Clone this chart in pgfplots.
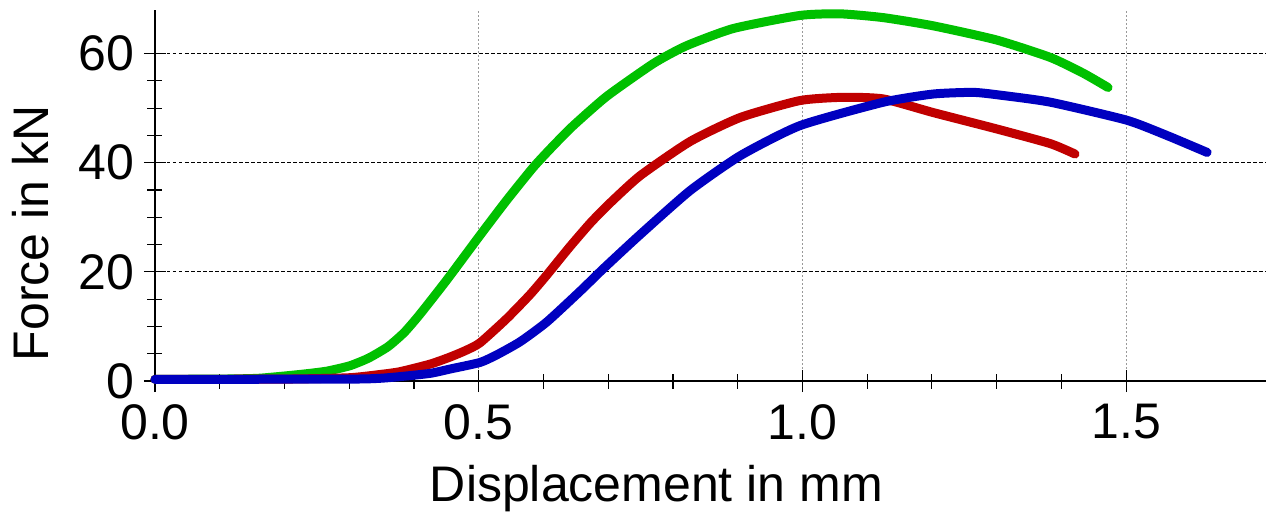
\documentclass[border=0pt]{standalone}
\usepackage{fontspec}
\setmainfont{Liberation Sans}
\usepackage{pgfplots}
\pgfplotsset{compat=1.18}
\definecolor{cgreen}{RGB}{0,192,0}
\definecolor{cred}{RGB}{192,0,0}
\definecolor{cblue}{RGB}{0,0,192}
\begin{document}
\begin{tikzpicture}
\begin{axis}[
  scale only axis,
  width=1111pt, height=371pt,
  xmin=0, xmax=1.716, ymin=0, ymax=68,
  axis x line=bottom, axis y line=left,
  axis line style={-, line width=1.3pt},
  xtick={0,0.5,1.0,1.5}, ytick={0,20,40,60},
  minor x tick num=4, minor y tick num=3,
  tick align=center,
  major tick length=22pt, minor tick length=15pt,
  every tick/.style={black, line width=1.1pt},
  xticklabel style={yshift=-9pt, /pgf/number format/.cd, fixed, fixed zerofill, precision=1},
  yticklabel style={xshift=-6pt},
  /pgf/number format/assume math mode=true,
  font=\fontsize{50}{58}\selectfont,
  ticklabel style={font=\fontsize{50}{58}\selectfont},
  grid=major,
  major x grid style={gray!80, dash pattern=on 2pt off 2pt, line width=1pt},
  major y grid style={black, dash pattern=on 3.5pt off 2.5pt, line width=0.9pt},
  xlabel={Displacement in mm},
  ylabel={Force in kN},
  xlabel style={at={(axis description cs:0.4513,-0.326)}, anchor=base},
  ylabel style={at={(axis description cs:-0.096,0.398)}, anchor=base},
  clip=false,
]
\addplot[cgreen, line width=9pt, line cap=round, line join=round, smooth, tension=0.35] coordinates {
(0,0.3) (0.1,0.35) (0.16,0.5) (0.224,1.2) (0.265,1.8) (0.301,2.8) (0.33,4.2) (0.36,6.3)
(0.385,8.9) (0.409,12.2) (0.4506,18.5) (0.502,26.7) (0.543,33.1) (0.5845,39.2) (0.615,43.1)
(0.646,46.8) (0.698,52.2) (0.77,58.2) (0.82,61.4) (0.893,64.6) (0.996,67.0) (1.058,67.3)
(1.125,66.6) (1.202,65.1) (1.300,62.5) (1.383,59.3) (1.434,56.4) (1.472,53.8)
};
\addplot[cred, line width=9pt, line cap=round, line join=round, smooth, tension=0.35] coordinates {
(0,0.3) (0.2,0.35) (0.3,0.6) (0.348,1.2) (0.378,1.7) (0.425,3.1) (0.456,4.4) (0.48,5.6)
(0.502,7.0) (0.543,11.4) (0.579,15.8) (0.605,19.4) (0.64,24.5) (0.672,28.9) (0.70,32.3)
(0.749,37.6) (0.8265,43.9) (0.904,48.3) (0.996,51.4) (1.063,52.0) (1.125,51.7) (1.202,49.2)
(1.300,46.2) (1.383,43.5) (1.421,41.6)
};
\addplot[cblue, line width=9pt, line cap=round, line join=round, smooth, tension=0.35] coordinates {
(0,0.3) (0.3,0.35) (0.348,0.5) (0.378,0.8) (0.425,1.4) (0.456,2.2) (0.502,3.4) (0.528,4.8)
(0.564,7.2) (0.605,10.8) (0.657,16.5) (0.6926,20.6) (0.749,26.8) (0.8265,34.9) (0.904,41.3)
(0.996,46.8) (1.125,51.1) (1.202,52.6) (1.264,52.9) (1.305,52.4) (1.383,51.1) (1.501,47.8)
(1.563,45.0) (1.625,41.9)
};
\end{axis}
\pgfresetboundingbox
\path[use as bounding box] ([shift={(-155pt,-140pt)}]current axis.south west) rectangle ([shift={(0pt,10pt)}]current axis.north east);
\end{tikzpicture}
\end{document}
